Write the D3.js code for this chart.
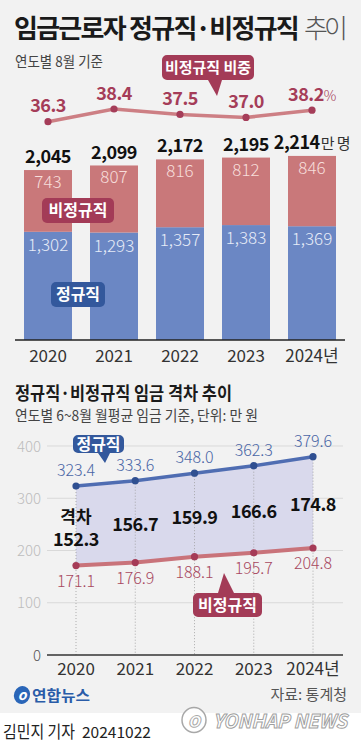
<!DOCTYPE html>
<html><head><meta charset="utf-8">
<script src="https://cdn.jsdelivr.net/npm/d3@7"></script>
<style>
html,body{margin:0;padding:0;background:#fff;}
svg{display:block;font-family:"Noto Sans CJK KR","Noto Sans",sans-serif;}
</style></head>
<body><svg id="c" width="361" height="750"></svg>
<script>
// ---- data ----
const years = ["2020","2021","2022","2023","2024"];
const yearLabels = ["2020","2021","2022","2023","2024년"];
const regularWorkers = [1302,1293,1357,1383,1369];
const nonRegularWorkers = [743,807,816,812,846];
const totalWorkers = [2045,2099,2172,2195,2214];
const nonRegularShare = [36.3,38.4,37.5,37.0,38.2];
const regularWage = [323.4,333.6,348.0,362.3,379.6];
const nonRegularWage = [171.1,176.9,188.1,195.7,204.8];
const wageGap = [152.3,156.7,159.9,166.6,174.8];
const wageTicks = [0,100,200,300,400];

const svg = d3.select("#c");
const C = {bg:"#f2f2f2", reg:"#6b87c4", non:"#c9787a", regDark:"#33589c", nonDark:"#a33b57",
  pct:"#a53d59", pctLine:"#cd7f84", regLine:"#4f6db2", regPt:"#2f4f91", nonLine:"#c9737a", nonPt:"#a53b57"};

svg.append("rect").attr("width",361).attr("height",713).attr("fill",C.bg);
svg.append("rect").attr("y",713).attr("width",361).attr("height",37).attr("fill","#fff");

// fit a text to a width using letter-spacing (keeps the real layout box honest)
function fitSpacing(sel, target){
  const node = sel.node(), n = sel.text().length;
  const L = node.getComputedTextLength();
  sel.attr("letter-spacing", (target - L)/n);
  return sel;
}

// ---- titles ----
const t1 = svg.append("text").attr("x",14).attr("y",38).attr("font-size",26).attr("font-weight",700)
  .attr("fill","#1a1a1a").text("임금근로자 정규직·비정규직");
fitSpacing(t1, 284);
const t2 = svg.append("text").attr("x",304).attr("y",38).attr("font-size",26).attr("font-weight",300)
  .attr("fill","#555").text("추이");
fitSpacing(t2, 40);
svg.append("text").attr("x",15).attr("y",67).attr("font-size",15).attr("fill","#444")
  .attr("textLength",88).attr("lengthAdjust","spacingAndGlyphs").text("연도별 8월 기준");

// ---- top chart: stacked bars ----
const xb = d3.scaleBand().domain(years).range([15,345]).paddingInner(0.273).paddingOuter(0.1365);
const yb = d3.scaleLinear().domain([0,2214]).range([340,156]);
const gB = svg.append("g");
gB.selectAll("rect.reg").data(years).join("rect").attr("class","reg")
  .attr("x",d=>xb(d)).attr("width",xb.bandwidth())
  .attr("y",(d,i)=>yb(regularWorkers[i])).attr("height",(d,i)=>yb(0)-yb(regularWorkers[i]))
  .attr("fill",C.reg);
gB.selectAll("rect.non").data(years).join("rect").attr("class","non")
  .attr("x",d=>xb(d)).attr("width",xb.bandwidth())
  .attr("y",(d,i)=>yb(regularWorkers[i]+nonRegularWorkers[i]))
  .attr("height",(d,i)=>yb(regularWorkers[i])-yb(regularWorkers[i]+nonRegularWorkers[i]))
  .attr("fill",C.non);
const cx = d=>xb(d)+xb.bandwidth()/2;
gB.selectAll("text.regv").data(years).join("text").attr("x",cx)
  .attr("y",(d,i)=>yb(regularWorkers[i])+19).attr("text-anchor","middle")
  .attr("font-size",17).attr("font-weight",300).attr("fill","#e6ebf7")
  .text((d,i)=>d3.format(",")(regularWorkers[i]));
gB.selectAll("text.nonv").data(years).join("text").attr("x",cx)
  .attr("y",(d,i)=>yb(regularWorkers[i]+nonRegularWorkers[i])+18).attr("text-anchor","middle")
  .attr("font-size",17).attr("font-weight",300).attr("fill","#f7dedb")
  .text((d,i)=>nonRegularWorkers[i]);
const tot = gB.selectAll("text.tot").data(years).join("text").attr("x",cx)
  .attr("y",(d,i)=>yb(totalWorkers[i])-7).attr("text-anchor","middle")
  .attr("font-size",18).attr("font-weight",700).attr("fill","#111").attr("letter-spacing",-0.5);
tot.append("tspan").text((d,i)=>d3.format(",")(totalWorkers[i]));
tot.filter((d,i)=>i===years.length-1).append("tspan").attr("font-size",15).attr("font-weight",400)
  .attr("fill","#333").attr("dx",1).text("만 명");
svg.append("line").attr("x1",15).attr("x2",345).attr("y1",yb(0)).attr("y2",yb(0))
  .attr("stroke","#222").attr("stroke-width",1.3);
svg.selectAll("text.xt").data(years).join("text").attr("x",cx).attr("y",362)
  .attr("text-anchor","middle").attr("font-size",17).attr("fill","#333")
  .text((d,i)=>yearLabels[i]);

// legend boxes
function tag(x,y,w,h,fill,txt,fs){
  svg.append("rect").attr("x",x).attr("y",y).attr("width",w).attr("height",h).attr("rx",5).attr("fill",fill);
  svg.append("text").attr("x",x+w/2).attr("y",y+h/2+5.5).attr("text-anchor","middle")
    .attr("font-size",fs||16).attr("font-weight",700).attr("fill","#fff").text(txt);
}
tag(42,198,72,25,C.nonDark,"비정규직");
tag(51,282,54,25,C.regDark,"정규직");

// ---- share line ----
const yp = d3.scaleLinear().domain([36.3,38.4]).range([121.7,109]);
svg.append("path").datum(nonRegularShare)
  .attr("d",d3.line().x((d,i)=>cx(years[i])).y(d=>yp(d)))
  .attr("fill","none").attr("stroke",C.pctLine).attr("stroke-width",3.5);
svg.selectAll("circle.pp").data(nonRegularShare).join("circle")
  .attr("cx",(d,i)=>cx(years[i])).attr("cy",d=>yp(d)).attr("r",3.6).attr("fill",C.pct);
const pl = svg.selectAll("text.pl").data(nonRegularShare).join("text")
  .attr("x",(d,i)=>cx(years[i])).attr("y",d=>yp(d)-9.5).attr("text-anchor","middle")
  .attr("font-size",18).attr("font-weight",700).attr("fill",C.pct).attr("letter-spacing",-0.5);
pl.append("tspan").text(d=>d.toFixed(1));
pl.filter((d,i)=>i===nonRegularShare.length-1).append("tspan").attr("font-size",14)
  .attr("font-weight",300).text("%");
// callout
svg.append("path").attr("d","M162,60 a5,5 0 0 1 5,-5 H249 a5,5 0 0 1 5,5 V75 a5,5 0 0 1 -5,5 H222 L217,96 L208,80 H167 a5,5 0 0 1 -5,-5 Z")
  .attr("fill",C.nonDark);
svg.append("text").attr("x",208).attr("y",73).attr("text-anchor","middle").attr("font-size",15)
  .attr("font-weight",700).attr("fill","#fff").text("비정규직 비중");

// ---- second chart ----
svg.append("text").attr("x",15).attr("y",400).attr("font-size",18).attr("font-weight",700)
  .attr("fill","#1a1a1a").attr("textLength",217).attr("lengthAdjust","spacingAndGlyphs")
  .text("정규직·비정규직 임금 격차 추이");
svg.append("text").attr("x",15).attr("y",421).attr("font-size",15).attr("fill","#444")
  .attr("textLength",243).attr("lengthAdjust","spacingAndGlyphs")
  .text("연도별 6~8월 월평균 임금 기준, 단위: 만 원");

const xw = d3.scalePoint().domain(years).range([76,313]);
const yw = d3.scaleLinear().domain([0,400]).range([655,446]);
const g2 = svg.append("g");
g2.selectAll("line.grid").data(wageTicks.filter(t=>t>0)).join("line")
  .attr("x1",47).attr("x2",343).attr("y1",d=>yw(d)).attr("y2",d=>yw(d))
  .attr("stroke","#d9d9d9").attr("stroke-width",1);
g2.selectAll("text.yt").data(wageTicks).join("text").attr("x",41).attr("y",d=>yw(d)+5.5)
  .attr("text-anchor","end").attr("font-size",15).attr("font-weight",300)
  .attr("fill",d=>d===0?"#555":"#bdbdbd").text(d=>d);
// area between
g2.append("path").datum(years)
  .attr("d",d3.area().x(d=>xw(d)).y0((d,i)=>yw(nonRegularWage[i])).y1((d,i)=>yw(regularWage[i])))
  .attr("fill","#d9d9ec");
// dotted verticals
g2.selectAll("line.v").data(years).join("line").attr("x1",d=>xw(d)).attr("x2",d=>xw(d))
  .attr("y1",(d,i)=>yw(regularWage[i])).attr("y2",yw(0))
  .attr("stroke","#9a9a9a").attr("stroke-width",0.8).attr("stroke-dasharray","1,2");
g2.append("line").attr("x1",47).attr("x2",343).attr("y1",yw(0)).attr("y2",yw(0))
  .attr("stroke","#333").attr("stroke-width",1.3);
// lines
g2.append("path").datum(regularWage).attr("d",d3.line().x((d,i)=>xw(years[i])).y(d=>yw(d)))
  .attr("fill","none").attr("stroke",C.regLine).attr("stroke-width",3.5);
g2.append("path").datum(nonRegularWage).attr("d",d3.line().x((d,i)=>xw(years[i])).y(d=>yw(d)))
  .attr("fill","none").attr("stroke",C.nonLine).attr("stroke-width",4);
g2.selectAll("circle.rp").data(regularWage).join("circle").attr("cx",(d,i)=>xw(years[i]))
  .attr("cy",d=>yw(d)).attr("r",3.6).attr("fill",C.regPt);
g2.selectAll("circle.np").data(nonRegularWage).join("circle").attr("cx",(d,i)=>xw(years[i]))
  .attr("cy",d=>yw(d)).attr("r",3.6).attr("fill",C.nonPt);
g2.selectAll("text.rl").data(regularWage).join("text").attr("x",(d,i)=>xw(years[i]))
  .attr("y",d=>yw(d)-10).attr("text-anchor","middle").attr("font-size",16).attr("font-weight",300)
  .attr("fill","#4a66a6").text(d=>d.toFixed(1));
g2.selectAll("text.nl").data(nonRegularWage).join("text").attr("x",(d,i)=>xw(years[i]))
  .attr("y",d=>yw(d)+21).attr("text-anchor","middle").attr("font-size",16).attr("font-weight",300)
  .attr("fill","#a8485f").text(d=>d.toFixed(1));
// gap labels
g2.selectAll("text.gl").data(wageGap).join("text").attr("x",(d,i)=>xw(years[i]))
  .attr("y",(d,i)=>yw((regularWage[i]+nonRegularWage[i])/2)+(i===0?20:9))
  .attr("text-anchor","middle").attr("font-size",18).attr("font-weight",700).attr("fill","#111")
  .attr("letter-spacing",-0.5).text(d=>d.toFixed(1));
g2.append("text").attr("x",xw(years[0])).attr("y",yw((regularWage[0]+nonRegularWage[0])/2)-3)
  .attr("text-anchor","middle").attr("font-size",17).attr("font-weight",700).attr("fill","#111").text("격차");
g2.selectAll("text.xt2").data(years).join("text").attr("x",d=>xw(d)).attr("y",675)
  .attr("text-anchor","middle").attr("font-size",17).attr("fill","#333").text((d,i)=>yearLabels[i]);
// callouts
svg.append("path").attr("d","M73,440 a5,5 0 0 1 5,-5 H119 a5,5 0 0 1 5,5 V448 a5,5 0 0 1 -5,5 H110 L105,463 L98,453 H78 a5,5 0 0 1 -5,-5 Z")
  .attr("fill",C.regDark);
svg.append("text").attr("x",98.5).attr("y",449.5).attr("text-anchor","middle").attr("font-size",16)
  .attr("font-weight",700).attr("fill","#fff").text("정규직");
svg.append("path").attr("d","M193,598 a5,5 0 0 1 5,-5 H218 L224,573 L234,593 H257 a5,5 0 0 1 5,5 V612 a5,5 0 0 1 -5,5 H198 a5,5 0 0 1 -5,-5 Z")
  .attr("fill",C.nonDark);
svg.append("text").attr("x",227.5).attr("y",610.5).attr("text-anchor","middle").attr("font-size",16)
  .attr("font-weight",700).attr("fill","#fff").text("비정규직");

// ---- footer ----
const lg = svg.append("g").attr("transform","translate(22,695)");
lg.append("ellipse").attr("rx",8).attr("ry",9).attr("fill","#2a66b8").attr("transform","rotate(20)");
lg.append("text").attr("x",0).attr("y",5).attr("text-anchor","middle").attr("font-size",14)
  .attr("font-style","italic").attr("font-weight",700).attr("fill","#fff").text("o");
svg.append("text").attr("x",32).attr("y",701).attr("font-size",15).attr("font-weight",700)
  .attr("fill","#2a5ca8").attr("textLength",58).attr("lengthAdjust","spacingAndGlyphs").text("연합뉴스");
svg.append("text").attr("x",347).attr("y",700).attr("text-anchor","end").attr("font-size",15)
  .attr("fill","#555").text("자료: 통계청");
svg.append("text").attr("x",3).attr("y",738).attr("font-size",17).attr("fill","#222")
  .attr("textLength",72).attr("lengthAdjust","spacingAndGlyphs").text("김민지 기자");
svg.append("text").attr("x",82).attr("y",738).attr("font-size",15).attr("fill","#222")
  .attr("textLength",69).attr("lengthAdjust","spacingAndGlyphs").text("20241022");
// watermark
const wm = svg.append("g").attr("opacity",0.85);
wm.append("ellipse").attr("cx",194).attr("cy",720).attr("rx",12).attr("ry",12.5).attr("fill","#fff")
  .attr("stroke","#9a9a9a").attr("stroke-width",1.5);
wm.append("text").attr("x",194).attr("y",727).attr("text-anchor","middle").attr("font-size",20)
  .attr("font-style","italic").attr("font-weight",700).attr("fill","#fff").attr("stroke","#9a9a9a")
  .attr("stroke-width",1).text("o");
wm.append("text").attr("x",213).attr("y",728).attr("font-size",19).attr("font-style","italic")
  .attr("font-weight",700).attr("fill","#fff").attr("stroke","#8f8f8f").attr("stroke-width",1)
  .attr("textLength",134).attr("lengthAdjust","spacingAndGlyphs").text("YONHAP NEWS");
</script></body></html>
